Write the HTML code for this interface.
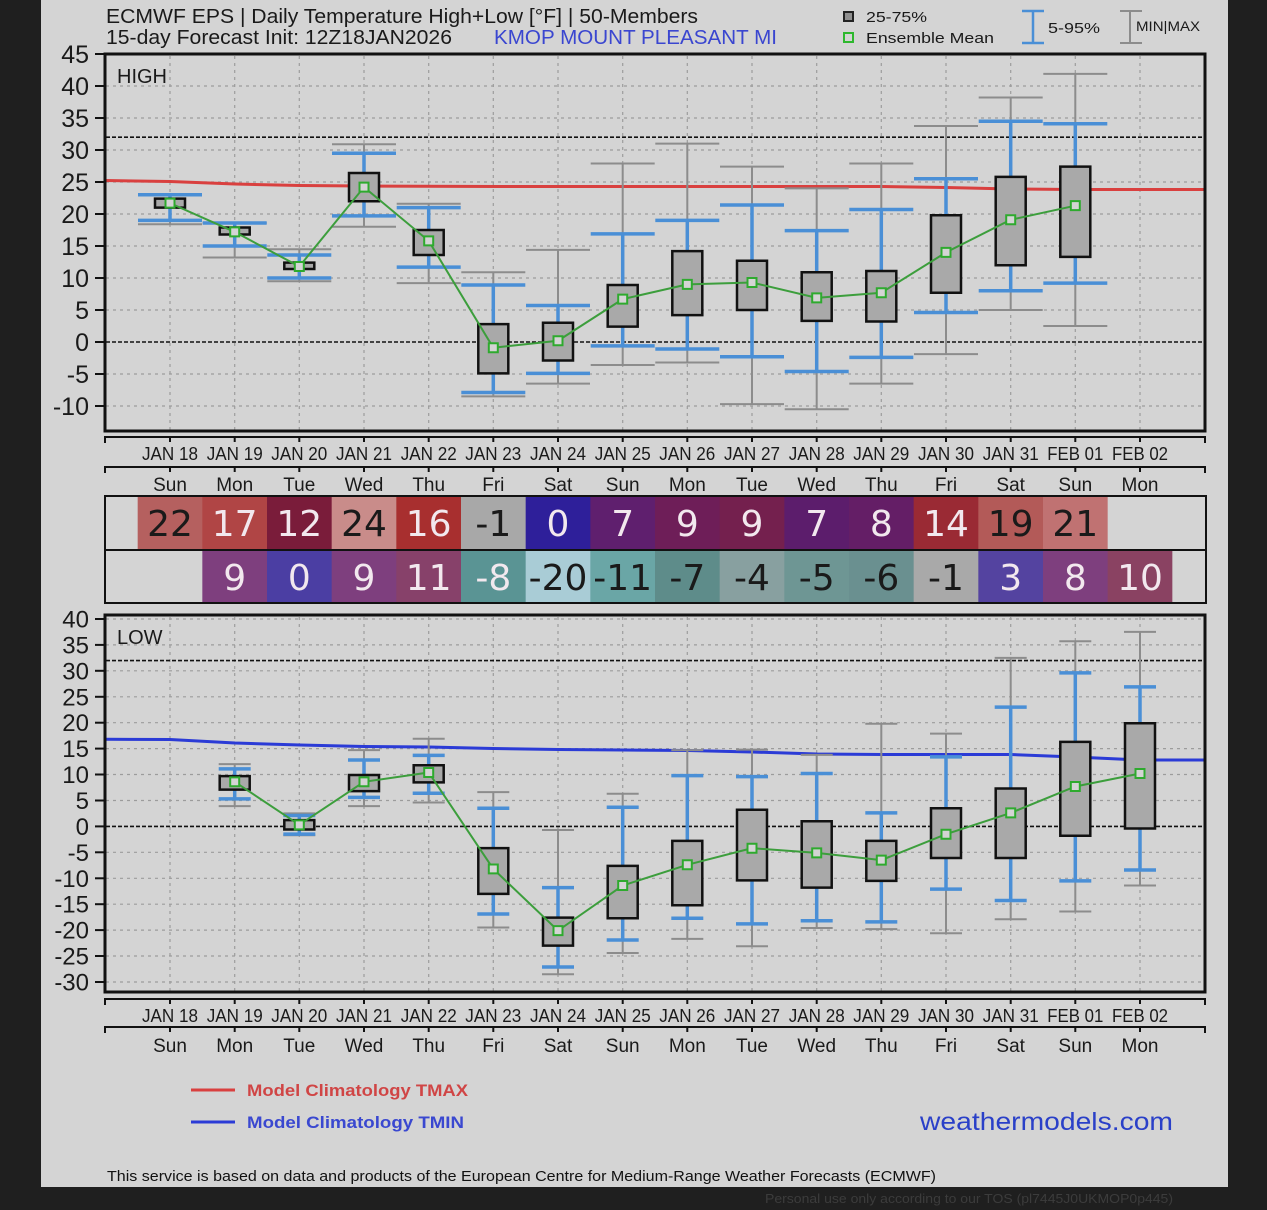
<!DOCTYPE html>
<html><head><meta charset="utf-8">
<style>
html,body{margin:0;padding:0;background:#1f1f1f;}
svg{display:block;}
text{font-family:"Liberation Sans",Arial,sans-serif;fill:#1a1a1a;}
.d line,.d rect,.d polyline{vector-effect:non-scaling-stroke;}
.g{stroke:#8c8c8c;stroke-width:2;}
.b{stroke:#4a8fd6;stroke-width:3.5;}
.bx{fill:#a9a9a9;stroke:#111;stroke-width:2.5;}
.mk{fill:#d4d4d4;stroke:#2eaa2e;stroke-width:2;}
.ml{fill:none;stroke:#3c9e3c;stroke-width:2;}
.grid line{stroke:#9c9c9c;stroke-width:1.2;stroke-dasharray:3 4;}
.tk line{stroke:#111;stroke-width:2;}
.yl text{font-size:25px;text-anchor:end;}
.yl2 text{font-size:24px;text-anchor:end;}
.xd text{font-size:18px;text-anchor:middle;}
.xw text{font-size:19px;text-anchor:middle;}
.tb text{font-family:"DejaVu Sans","Liberation Sans",sans-serif;font-size:36px;text-anchor:middle;}
.tb text.w{fill:#f2e8ee;}
</style></head><body>
<svg width="1267" height="1210" viewBox="0 0 1267 1210" xmlns="http://www.w3.org/2000/svg">
<rect x="0" y="0" width="1267" height="1210" fill="#1f1f1f"/>
<rect x="41" y="0" width="1187" height="1187" fill="#d4d4d4"/>

<!-- Header -->
<text x="106" y="23" font-size="20" textLength="592" lengthAdjust="spacingAndGlyphs">ECMWF EPS | Daily Temperature High+Low [°F] | 50-Members</text>
<text x="106" y="44" font-size="20" textLength="346" lengthAdjust="spacingAndGlyphs">15-day Forecast Init: 12Z18JAN2026</text>
<text x="494" y="44" font-size="20" style="fill:#3a46d0" textLength="283" lengthAdjust="spacingAndGlyphs">KMOP  MOUNT PLEASANT  MI</text>

<!-- top legend -->
<rect x="844" y="12" width="9" height="9" fill="#8f8f8f" stroke="#222" stroke-width="2"/>
<text x="866" y="22" font-size="15" textLength="61" lengthAdjust="spacingAndGlyphs">25-75%</text>
<rect x="844" y="33" width="9" height="9" fill="#d4d4d4" stroke="#2eb82e" stroke-width="2"/>
<text x="866" y="43" font-size="15" textLength="128" lengthAdjust="spacingAndGlyphs">Ensemble Mean</text>
<g stroke="#4a8fd6" stroke-width="2.5">
<line x1="1033" y1="11" x2="1033" y2="43"/><line x1="1022" y1="11" x2="1044" y2="11"/><line x1="1022" y1="43" x2="1044" y2="43"/>
</g>
<text x="1048" y="33" font-size="15" textLength="52" lengthAdjust="spacingAndGlyphs">5-95%</text>
<g stroke="#8c8c8c" stroke-width="2">
<line x1="1130" y1="11" x2="1130" y2="43"/><line x1="1120" y1="11" x2="1142" y2="11"/><line x1="1120" y1="43" x2="1142" y2="43"/>
</g>
<text x="1136" y="31" font-size="14" textLength="64" lengthAdjust="spacingAndGlyphs">MIN|MAX</text>

<!-- ============ HIGH PLOT ============ -->
<g class="grid">
<line x1="106" y1="86" x2="1204" y2="86"/><line x1="106" y1="118" x2="1204" y2="118"/>
<line x1="106" y1="150" x2="1204" y2="150"/><line x1="106" y1="182" x2="1204" y2="182"/>
<line x1="106" y1="214" x2="1204" y2="214"/><line x1="106" y1="246" x2="1204" y2="246"/>
<line x1="106" y1="278" x2="1204" y2="278"/><line x1="106" y1="310" x2="1204" y2="310"/>
<line x1="106" y1="374" x2="1204" y2="374"/><line x1="106" y1="406" x2="1204" y2="406"/>
<line x1="170" y1="56" x2="170" y2="430"/><line x1="234.7" y1="56" x2="234.7" y2="430"/>
<line x1="299.3" y1="56" x2="299.3" y2="430"/><line x1="364" y1="56" x2="364" y2="430"/>
<line x1="428.7" y1="56" x2="428.7" y2="430"/><line x1="493.3" y1="56" x2="493.3" y2="430"/>
<line x1="558" y1="56" x2="558" y2="430"/><line x1="622.7" y1="56" x2="622.7" y2="430"/>
<line x1="687.3" y1="56" x2="687.3" y2="430"/><line x1="752" y1="56" x2="752" y2="430"/>
<line x1="816.7" y1="56" x2="816.7" y2="430"/><line x1="881.3" y1="56" x2="881.3" y2="430"/>
<line x1="946" y1="56" x2="946" y2="430"/><line x1="1010.7" y1="56" x2="1010.7" y2="430"/>
<line x1="1075.3" y1="56" x2="1075.3" y2="430"/><line x1="1140" y1="56" x2="1140" y2="430"/>
</g>
<line x1="106" y1="137.2" x2="1204" y2="137.2" stroke="#111" stroke-width="1.6" stroke-dasharray="4 2"/>
<line x1="106" y1="342" x2="1204" y2="342" stroke="#111" stroke-width="1.6" stroke-dasharray="4 2"/>
<text x="117" y="83" font-size="20">HIGH</text>

<polyline points="105,180.5 170,181.5 235,184 300,185.5 364,186 500,186.5 700,186.5 882,186.5 946,187.5 1011,189 1075,189.5 1205,189.5" fill="none" stroke="#d9403f" stroke-width="3"/>

<g class="d" transform="matrix(1 0 0 -6.4 0 342)">
<!-- i0 -->
<line x1="170" y1="18.4" x2="170" y2="23" class="g"/><line x1="138" y1="18.4" x2="202" y2="18.4" class="g"/><line x1="138" y1="23" x2="202" y2="23" class="g"/>
<line x1="170" y1="19" x2="170" y2="23" class="b"/><line x1="138" y1="19" x2="202" y2="19" class="b"/><line x1="138" y1="23" x2="202" y2="23" class="b"/>
<rect x="155" y="21" width="30" height="1.4" class="bx"/>
<!-- i1 -->
<line x1="234.7" y1="13.2" x2="234.7" y2="18.6" class="g"/><line x1="202.7" y1="13.2" x2="266.7" y2="13.2" class="g"/><line x1="202.7" y1="18.6" x2="266.7" y2="18.6" class="g"/>
<line x1="234.7" y1="15" x2="234.7" y2="18.6" class="b"/><line x1="202.7" y1="15" x2="266.7" y2="15" class="b"/><line x1="202.7" y1="18.6" x2="266.7" y2="18.6" class="b"/>
<rect x="219.7" y="16.8" width="30" height="1.1" class="bx"/>
<!-- i2 -->
<line x1="299.3" y1="9.5" x2="299.3" y2="14.5" class="g"/><line x1="267.3" y1="9.5" x2="331.3" y2="9.5" class="g"/><line x1="267.3" y1="14.5" x2="331.3" y2="14.5" class="g"/>
<line x1="299.3" y1="10" x2="299.3" y2="13.6" class="b"/><line x1="267.3" y1="10" x2="331.3" y2="10" class="b"/><line x1="267.3" y1="13.6" x2="331.3" y2="13.6" class="b"/>
<rect x="284.3" y="11.4" width="30" height="1.0" class="bx"/>
<!-- i3 -->
<line x1="364" y1="18" x2="364" y2="30.9" class="g"/><line x1="332" y1="18" x2="396" y2="18" class="g"/><line x1="332" y1="30.9" x2="396" y2="30.9" class="g"/>
<line x1="364" y1="19.7" x2="364" y2="29.5" class="b"/><line x1="332" y1="19.7" x2="396" y2="19.7" class="b"/><line x1="332" y1="29.5" x2="396" y2="29.5" class="b"/>
<rect x="349" y="22" width="30" height="4.4" class="bx"/>
<!-- i4 -->
<line x1="428.7" y1="9.2" x2="428.7" y2="21.6" class="g"/><line x1="396.7" y1="9.2" x2="460.7" y2="9.2" class="g"/><line x1="396.7" y1="21.6" x2="460.7" y2="21.6" class="g"/>
<line x1="428.7" y1="11.7" x2="428.7" y2="21" class="b"/><line x1="396.7" y1="11.7" x2="460.7" y2="11.7" class="b"/><line x1="396.7" y1="21" x2="460.7" y2="21" class="b"/>
<rect x="413.7" y="13.6" width="30" height="3.9" class="bx"/>
<!-- i5 -->
<line x1="493.3" y1="-8.5" x2="493.3" y2="10.9" class="g"/><line x1="461.3" y1="-8.5" x2="525.3" y2="-8.5" class="g"/><line x1="461.3" y1="10.9" x2="525.3" y2="10.9" class="g"/>
<line x1="493.3" y1="-7.9" x2="493.3" y2="8.9" class="b"/><line x1="461.3" y1="-7.9" x2="525.3" y2="-7.9" class="b"/><line x1="461.3" y1="8.9" x2="525.3" y2="8.9" class="b"/>
<rect x="478.3" y="-4.9" width="30" height="7.7" class="bx"/>
<!-- i6 -->
<line x1="558" y1="-6.5" x2="558" y2="14.4" class="g"/><line x1="526" y1="-6.5" x2="590" y2="-6.5" class="g"/><line x1="526" y1="14.4" x2="590" y2="14.4" class="g"/>
<line x1="558" y1="-4.9" x2="558" y2="5.7" class="b"/><line x1="526" y1="-4.9" x2="590" y2="-4.9" class="b"/><line x1="526" y1="5.7" x2="590" y2="5.7" class="b"/>
<rect x="543" y="-2.9" width="30" height="5.9" class="bx"/>
<!-- i7 -->
<line x1="622.7" y1="-3.6" x2="622.7" y2="27.9" class="g"/><line x1="590.7" y1="-3.6" x2="654.7" y2="-3.6" class="g"/><line x1="590.7" y1="27.9" x2="654.7" y2="27.9" class="g"/>
<line x1="622.7" y1="-0.6" x2="622.7" y2="16.9" class="b"/><line x1="590.7" y1="-0.6" x2="654.7" y2="-0.6" class="b"/><line x1="590.7" y1="16.9" x2="654.7" y2="16.9" class="b"/>
<rect x="607.7" y="2.4" width="30" height="6.5" class="bx"/>
<!-- i8 -->
<line x1="687.3" y1="-3.2" x2="687.3" y2="31" class="g"/><line x1="655.3" y1="-3.2" x2="719.3" y2="-3.2" class="g"/><line x1="655.3" y1="31" x2="719.3" y2="31" class="g"/>
<line x1="687.3" y1="-1.1" x2="687.3" y2="19" class="b"/><line x1="655.3" y1="-1.1" x2="719.3" y2="-1.1" class="b"/><line x1="655.3" y1="19" x2="719.3" y2="19" class="b"/>
<rect x="672.3" y="4.2" width="30" height="10" class="bx"/>
<!-- i9 -->
<line x1="752" y1="-9.7" x2="752" y2="27.4" class="g"/><line x1="720" y1="-9.7" x2="784" y2="-9.7" class="g"/><line x1="720" y1="27.4" x2="784" y2="27.4" class="g"/>
<line x1="752" y1="-2.3" x2="752" y2="21.4" class="b"/><line x1="720" y1="-2.3" x2="784" y2="-2.3" class="b"/><line x1="720" y1="21.4" x2="784" y2="21.4" class="b"/>
<rect x="737" y="5" width="30" height="7.7" class="bx"/>
<!-- i10 -->
<line x1="816.7" y1="-10.5" x2="816.7" y2="24" class="g"/><line x1="784.7" y1="-10.5" x2="848.7" y2="-10.5" class="g"/><line x1="784.7" y1="24" x2="848.7" y2="24" class="g"/>
<line x1="816.7" y1="-4.6" x2="816.7" y2="17.4" class="b"/><line x1="784.7" y1="-4.6" x2="848.7" y2="-4.6" class="b"/><line x1="784.7" y1="17.4" x2="848.7" y2="17.4" class="b"/>
<rect x="801.7" y="3.3" width="30" height="7.6" class="bx"/>
<!-- i11 -->
<line x1="881.3" y1="-6.5" x2="881.3" y2="27.9" class="g"/><line x1="849.3" y1="-6.5" x2="913.3" y2="-6.5" class="g"/><line x1="849.3" y1="27.9" x2="913.3" y2="27.9" class="g"/>
<line x1="881.3" y1="-2.4" x2="881.3" y2="20.7" class="b"/><line x1="849.3" y1="-2.4" x2="913.3" y2="-2.4" class="b"/><line x1="849.3" y1="20.7" x2="913.3" y2="20.7" class="b"/>
<rect x="866.3" y="3.2" width="30" height="7.9" class="bx"/>
<!-- i12 -->
<line x1="946" y1="-1.9" x2="946" y2="33.75" class="g"/><line x1="914" y1="-1.9" x2="978" y2="-1.9" class="g"/><line x1="914" y1="33.75" x2="978" y2="33.75" class="g"/>
<line x1="946" y1="4.6" x2="946" y2="25.5" class="b"/><line x1="914" y1="4.6" x2="978" y2="4.6" class="b"/><line x1="914" y1="25.5" x2="978" y2="25.5" class="b"/>
<rect x="931" y="7.7" width="30" height="12.1" class="bx"/>
<!-- i13 -->
<line x1="1010.7" y1="5" x2="1010.7" y2="38.2" class="g"/><line x1="978.7" y1="5" x2="1042.7" y2="5" class="g"/><line x1="978.7" y1="38.2" x2="1042.7" y2="38.2" class="g"/>
<line x1="1010.7" y1="8" x2="1010.7" y2="34.5" class="b"/><line x1="978.7" y1="8" x2="1042.7" y2="8" class="b"/><line x1="978.7" y1="34.5" x2="1042.7" y2="34.5" class="b"/>
<rect x="995.7" y="12" width="30" height="13.8" class="bx"/>
<!-- i14 -->
<line x1="1075.3" y1="2.5" x2="1075.3" y2="41.9" class="g"/><line x1="1043.3" y1="2.5" x2="1107.3" y2="2.5" class="g"/><line x1="1043.3" y1="41.9" x2="1107.3" y2="41.9" class="g"/>
<line x1="1075.3" y1="9.2" x2="1075.3" y2="34.1" class="b"/><line x1="1043.3" y1="9.2" x2="1107.3" y2="9.2" class="b"/><line x1="1043.3" y1="34.1" x2="1107.3" y2="34.1" class="b"/>
<rect x="1060.3" y="13.3" width="30" height="14.1" class="bx"/>

<polyline class="ml" points="170,21.7 234.7,17.2 299.3,11.8 364,24.2 428.7,15.8 493.3,-0.9 558,0.2 622.7,6.7 687.3,9.0 752,9.3 816.7,6.9 881.3,7.7 946,14.0 1010.7,19.1 1075.3,21.3"/>
<rect class="mk" x="165.5" y="21.0" width="9" height="1.406"/>
<rect class="mk" x="230.2" y="16.5" width="9" height="1.406"/>
<rect class="mk" x="294.8" y="11.1" width="9" height="1.406"/>
<rect class="mk" x="359.5" y="23.5" width="9" height="1.406"/>
<rect class="mk" x="424.2" y="15.1" width="9" height="1.406"/>
<rect class="mk" x="488.8" y="-1.6" width="9" height="1.406"/>
<rect class="mk" x="553.5" y="-0.5" width="9" height="1.406"/>
<rect class="mk" x="618.2" y="6.0" width="9" height="1.406"/>
<rect class="mk" x="682.8" y="8.3" width="9" height="1.406"/>
<rect class="mk" x="747.5" y="8.6" width="9" height="1.406"/>
<rect class="mk" x="812.2" y="6.2" width="9" height="1.406"/>
<rect class="mk" x="876.8" y="7.0" width="9" height="1.406"/>
<rect class="mk" x="941.5" y="13.3" width="9" height="1.406"/>
<rect class="mk" x="1006.2" y="18.4" width="9" height="1.406"/>
<rect class="mk" x="1070.8" y="20.6" width="9" height="1.406"/>
</g>

<rect x="105" y="54" width="1100" height="377" fill="none" stroke="#111" stroke-width="3"/>

<g class="tk">
<line x1="95" y1="54" x2="105" y2="54"/><line x1="95" y1="86" x2="105" y2="86"/><line x1="95" y1="118" x2="105" y2="118"/>
<line x1="95" y1="150" x2="105" y2="150"/><line x1="95" y1="182" x2="105" y2="182"/><line x1="95" y1="214" x2="105" y2="214"/>
<line x1="95" y1="246" x2="105" y2="246"/><line x1="95" y1="278" x2="105" y2="278"/><line x1="95" y1="310" x2="105" y2="310"/>
<line x1="95" y1="342" x2="105" y2="342"/><line x1="95" y1="374" x2="105" y2="374"/><line x1="95" y1="406" x2="105" y2="406"/>
</g>
<g class="yl">
<text x="89" y="63">45</text><text x="89" y="95">40</text><text x="89" y="127">35</text><text x="89" y="159">30</text>
<text x="89" y="191">25</text><text x="89" y="223">20</text><text x="89" y="255">15</text><text x="89" y="287">10</text>
<text x="89" y="319">5</text><text x="89" y="351">0</text><text x="89" y="383">-5</text><text x="89" y="415">-10</text>
</g>

<!-- HIGH x axis -->
<g class="tk">
<line x1="105" y1="437" x2="1206" y2="437" stroke-width="2.5"/>
<line x1="105" y1="436" x2="105" y2="443"/><line x1="1205" y1="436" x2="1205" y2="443"/>
<line x1="170" y1="436" x2="170" y2="442"/><line x1="234.7" y1="436" x2="234.7" y2="442"/><line x1="299.3" y1="436" x2="299.3" y2="442"/>
<line x1="364" y1="436" x2="364" y2="442"/><line x1="428.7" y1="436" x2="428.7" y2="442"/><line x1="493.3" y1="436" x2="493.3" y2="442"/>
<line x1="558" y1="436" x2="558" y2="442"/><line x1="622.7" y1="436" x2="622.7" y2="442"/><line x1="687.3" y1="436" x2="687.3" y2="442"/>
<line x1="752" y1="436" x2="752" y2="442"/><line x1="816.7" y1="436" x2="816.7" y2="442"/><line x1="881.3" y1="436" x2="881.3" y2="442"/>
<line x1="946" y1="436" x2="946" y2="442"/><line x1="1010.7" y1="436" x2="1010.7" y2="442"/><line x1="1075.3" y1="436" x2="1075.3" y2="442"/>
<line x1="1140" y1="436" x2="1140" y2="442"/>
<line x1="105" y1="467" x2="1206" y2="467" stroke-width="2.5"/>
<line x1="105" y1="466" x2="105" y2="473"/><line x1="1205" y1="466" x2="1205" y2="473"/>
<line x1="170" y1="466" x2="170" y2="472"/><line x1="234.7" y1="466" x2="234.7" y2="472"/><line x1="299.3" y1="466" x2="299.3" y2="472"/>
<line x1="364" y1="466" x2="364" y2="472"/><line x1="428.7" y1="466" x2="428.7" y2="472"/><line x1="493.3" y1="466" x2="493.3" y2="472"/>
<line x1="558" y1="466" x2="558" y2="472"/><line x1="622.7" y1="466" x2="622.7" y2="472"/><line x1="687.3" y1="466" x2="687.3" y2="472"/>
<line x1="752" y1="466" x2="752" y2="472"/><line x1="816.7" y1="466" x2="816.7" y2="472"/><line x1="881.3" y1="466" x2="881.3" y2="472"/>
<line x1="946" y1="466" x2="946" y2="472"/><line x1="1010.7" y1="466" x2="1010.7" y2="472"/><line x1="1075.3" y1="466" x2="1075.3" y2="472"/>
<line x1="1140" y1="466" x2="1140" y2="472"/>
</g>
<g class="xd">
<text x="170" y="460" textLength="56" lengthAdjust="spacingAndGlyphs">JAN 18</text>
<text x="234.7" y="460" textLength="56" lengthAdjust="spacingAndGlyphs">JAN 19</text>
<text x="299.3" y="460" textLength="56" lengthAdjust="spacingAndGlyphs">JAN 20</text>
<text x="364" y="460" textLength="56" lengthAdjust="spacingAndGlyphs">JAN 21</text>
<text x="428.7" y="460" textLength="56" lengthAdjust="spacingAndGlyphs">JAN 22</text>
<text x="493.3" y="460" textLength="56" lengthAdjust="spacingAndGlyphs">JAN 23</text>
<text x="558" y="460" textLength="56" lengthAdjust="spacingAndGlyphs">JAN 24</text>
<text x="622.7" y="460" textLength="56" lengthAdjust="spacingAndGlyphs">JAN 25</text>
<text x="687.3" y="460" textLength="56" lengthAdjust="spacingAndGlyphs">JAN 26</text>
<text x="752" y="460" textLength="56" lengthAdjust="spacingAndGlyphs">JAN 27</text>
<text x="816.7" y="460" textLength="56" lengthAdjust="spacingAndGlyphs">JAN 28</text>
<text x="881.3" y="460" textLength="56" lengthAdjust="spacingAndGlyphs">JAN 29</text>
<text x="946" y="460" textLength="56" lengthAdjust="spacingAndGlyphs">JAN 30</text>
<text x="1010.7" y="460" textLength="56" lengthAdjust="spacingAndGlyphs">JAN 31</text>
<text x="1075.3" y="460" textLength="56" lengthAdjust="spacingAndGlyphs">FEB 01</text>
<text x="1140" y="460" textLength="56" lengthAdjust="spacingAndGlyphs">FEB 02</text>
</g>
<g class="xw">
<text x="170" y="491">Sun</text><text x="234.7" y="491">Mon</text><text x="299.3" y="491">Tue</text><text x="364" y="491">Wed</text>
<text x="428.7" y="491">Thu</text><text x="493.3" y="491">Fri</text><text x="558" y="491">Sat</text><text x="622.7" y="491">Sun</text>
<text x="687.3" y="491">Mon</text><text x="752" y="491">Tue</text><text x="816.7" y="491">Wed</text><text x="881.3" y="491">Thu</text>
<text x="946" y="491">Fri</text><text x="1010.7" y="491">Sat</text><text x="1075.3" y="491">Sun</text><text x="1140" y="491">Mon</text>
</g>

<!-- ============ TABLE ============ -->
<g>
<rect x="137.67" y="497" width="65" height="53" fill="#b5605f"/>
<rect x="202.33" y="497" width="65" height="53" fill="#b04545"/>
<rect x="267" y="497" width="65" height="53" fill="#7a1c3a"/>
<rect x="331.67" y="497" width="65" height="53" fill="#c98c8a"/>
<rect x="396.33" y="497" width="65" height="53" fill="#a82f2f"/>
<rect x="461" y="497" width="65" height="53" fill="#a8a8a8"/>
<rect x="525.67" y="497" width="65" height="53" fill="#2e1f9a"/>
<rect x="590.33" y="497" width="65" height="53" fill="#5f1f6e"/>
<rect x="655" y="497" width="65" height="53" fill="#6e1e58"/>
<rect x="719.67" y="497" width="65" height="53" fill="#74204e"/>
<rect x="784.33" y="497" width="65" height="53" fill="#5c1d6c"/>
<rect x="849" y="497" width="65" height="53" fill="#641e66"/>
<rect x="913.67" y="497" width="65" height="53" fill="#9a2a34"/>
<rect x="978.33" y="497" width="65" height="53" fill="#b35a58"/>
<rect x="1043" y="497" width="64.67" height="53" fill="#c07272"/>

<rect x="202.33" y="550" width="65" height="53" fill="#7e3f7e"/>
<rect x="267" y="550" width="65" height="53" fill="#4b3ea3"/>
<rect x="331.67" y="550" width="65" height="53" fill="#7e3f7e"/>
<rect x="396.33" y="550" width="65" height="53" fill="#87416a"/>
<rect x="461" y="550" width="65" height="53" fill="#5a9494"/>
<rect x="525.67" y="550" width="65" height="53" fill="#a9ccd6"/>
<rect x="590.33" y="550" width="65" height="53" fill="#6aa6a6"/>
<rect x="655" y="550" width="65" height="53" fill="#5e8c8a"/>
<rect x="719.67" y="550" width="65" height="53" fill="#88a0a0"/>
<rect x="784.33" y="550" width="65" height="53" fill="#6e9694"/>
<rect x="849" y="550" width="65" height="53" fill="#6a9090"/>
<rect x="913.67" y="550" width="65" height="53" fill="#a9a9a9"/>
<rect x="978.33" y="550" width="65" height="53" fill="#5443a0"/>
<rect x="1043" y="550" width="65" height="53" fill="#7e3f7e"/>
<rect x="1107.67" y="550" width="64.67" height="53" fill="#8a4262"/>
</g>
<rect x="105" y="496" width="1101" height="107" fill="none" stroke="#111" stroke-width="2"/>
<line x1="105" y1="550" x2="1206" y2="550" stroke="#111" stroke-width="2"/>
<g class="tb">
<text x="170" y="536">22</text>
<text x="234.7" y="536" class="w">17</text>
<text x="299.3" y="536" class="w">12</text>
<text x="364" y="536">24</text>
<text x="428.7" y="536" class="w">16</text>
<text x="493.3" y="536">-1</text>
<text x="558" y="536" class="w">0</text>
<text x="622.7" y="536" class="w">7</text>
<text x="687.3" y="536" class="w">9</text>
<text x="752" y="536" class="w">9</text>
<text x="816.7" y="536" class="w">7</text>
<text x="881.3" y="536" class="w">8</text>
<text x="946" y="536" class="w">14</text>
<text x="1010.7" y="536">19</text>
<text x="1075.3" y="536">21</text>

<text x="234.7" y="590" class="w">9</text>
<text x="299.3" y="590" class="w">0</text>
<text x="364" y="590" class="w">9</text>
<text x="428.7" y="590" class="w">11</text>
<text x="493.3" y="590" class="w">-8</text>
<text x="558" y="590">-20</text>
<text x="622.7" y="590">-11</text>
<text x="687.3" y="590">-7</text>
<text x="752" y="590">-4</text>
<text x="816.7" y="590">-5</text>
<text x="881.3" y="590">-6</text>
<text x="946" y="590">-1</text>
<text x="1010.7" y="590" class="w">3</text>
<text x="1075.3" y="590" class="w">8</text>
<text x="1140" y="590" class="w">10</text>
</g>

<!-- ============ LOW PLOT ============ -->
<g class="grid">
<line x1="106" y1="619" x2="1204" y2="619"/><line x1="106" y1="644.9" x2="1204" y2="644.9"/>
<line x1="106" y1="670.8" x2="1204" y2="670.8"/><line x1="106" y1="696.8" x2="1204" y2="696.8"/>
<line x1="106" y1="722.7" x2="1204" y2="722.7"/><line x1="106" y1="748.6" x2="1204" y2="748.6"/>
<line x1="106" y1="774.5" x2="1204" y2="774.5"/><line x1="106" y1="800.5" x2="1204" y2="800.5"/>
<line x1="106" y1="852.3" x2="1204" y2="852.3"/><line x1="106" y1="878.3" x2="1204" y2="878.3"/>
<line x1="106" y1="904.2" x2="1204" y2="904.2"/><line x1="106" y1="930.1" x2="1204" y2="930.1"/>
<line x1="106" y1="956" x2="1204" y2="956"/><line x1="106" y1="982" x2="1204" y2="982"/>
<line x1="170" y1="617" x2="170" y2="991"/><line x1="234.7" y1="617" x2="234.7" y2="991"/>
<line x1="299.3" y1="617" x2="299.3" y2="991"/><line x1="364" y1="617" x2="364" y2="991"/>
<line x1="428.7" y1="617" x2="428.7" y2="991"/><line x1="493.3" y1="617" x2="493.3" y2="991"/>
<line x1="558" y1="617" x2="558" y2="991"/><line x1="622.7" y1="617" x2="622.7" y2="991"/>
<line x1="687.3" y1="617" x2="687.3" y2="991"/><line x1="752" y1="617" x2="752" y2="991"/>
<line x1="816.7" y1="617" x2="816.7" y2="991"/><line x1="881.3" y1="617" x2="881.3" y2="991"/>
<line x1="946" y1="617" x2="946" y2="991"/><line x1="1010.7" y1="617" x2="1010.7" y2="991"/>
<line x1="1075.3" y1="617" x2="1075.3" y2="991"/><line x1="1140" y1="617" x2="1140" y2="991"/>
</g>
<line x1="106" y1="660.6" x2="1204" y2="660.6" stroke="#111" stroke-width="1.6" stroke-dasharray="4 2"/>
<line x1="106" y1="826.4" x2="1204" y2="826.4" stroke="#111" stroke-width="1.6" stroke-dasharray="4 2"/>
<text x="117" y="644" font-size="20">LOW</text>

<polyline points="105,739.3 170,739.5 235,743 300,745 364,746.5 429,747 493,748.5 558,749.5 623,750 688,750.5 752,752 817,754 882,754.5 946,754.5 1011,754.5 1075,757 1140,760 1205,760" fill="none" stroke="#2b3bd6" stroke-width="3"/>

<g class="d" transform="matrix(1 0 0 -5.186 0 826.4)">
<!-- i1 -->
<line x1="234.7" y1="3.9" x2="234.7" y2="12" class="g"/><line x1="218.7" y1="3.9" x2="250.7" y2="3.9" class="g"/><line x1="218.7" y1="12" x2="250.7" y2="12" class="g"/>
<line x1="234.7" y1="5.3" x2="234.7" y2="11.1" class="b"/><line x1="218.7" y1="5.3" x2="250.7" y2="5.3" class="b"/><line x1="218.7" y1="11.1" x2="250.7" y2="11.1" class="b"/>
<rect x="219.7" y="7.1" width="30" height="2.6" class="bx"/>
<!-- i2 -->
<line x1="299.3" y1="-1.7" x2="299.3" y2="2.5" class="g"/><line x1="283.3" y1="-1.7" x2="315.3" y2="-1.7" class="g"/><line x1="283.3" y1="2.5" x2="315.3" y2="2.5" class="g"/>
<line x1="299.3" y1="-1.5" x2="299.3" y2="2.1" class="b"/><line x1="283.3" y1="-1.5" x2="315.3" y2="-1.5" class="b"/><line x1="283.3" y1="2.1" x2="315.3" y2="2.1" class="b"/>
<rect x="284.3" y="-0.6" width="30" height="1.8" class="bx"/>
<!-- i3 -->
<line x1="364" y1="3.9" x2="364" y2="14.7" class="g"/><line x1="348" y1="3.9" x2="380" y2="3.9" class="g"/><line x1="348" y1="14.7" x2="380" y2="14.7" class="g"/>
<line x1="364" y1="5.6" x2="364" y2="12.8" class="b"/><line x1="348" y1="5.6" x2="380" y2="5.6" class="b"/><line x1="348" y1="12.8" x2="380" y2="12.8" class="b"/>
<rect x="349" y="6.8" width="30" height="3.1" class="bx"/>
<!-- i4 -->
<line x1="428.7" y1="4.6" x2="428.7" y2="16.9" class="g"/><line x1="412.7" y1="4.6" x2="444.7" y2="4.6" class="g"/><line x1="412.7" y1="16.9" x2="444.7" y2="16.9" class="g"/>
<line x1="428.7" y1="6.4" x2="428.7" y2="13.7" class="b"/><line x1="412.7" y1="6.4" x2="444.7" y2="6.4" class="b"/><line x1="412.7" y1="13.7" x2="444.7" y2="13.7" class="b"/>
<rect x="413.7" y="8.5" width="30" height="3.3" class="bx"/>
<!-- i5 -->
<line x1="493.3" y1="-19.5" x2="493.3" y2="6.6" class="g"/><line x1="477.3" y1="-19.5" x2="509.3" y2="-19.5" class="g"/><line x1="477.3" y1="6.6" x2="509.3" y2="6.6" class="g"/>
<line x1="493.3" y1="-16.9" x2="493.3" y2="3.5" class="b"/><line x1="477.3" y1="-16.9" x2="509.3" y2="-16.9" class="b"/><line x1="477.3" y1="3.5" x2="509.3" y2="3.5" class="b"/>
<rect x="478.3" y="-13" width="30" height="8.8" class="bx"/>
<!-- i6 -->
<line x1="558" y1="-28.5" x2="558" y2="-0.7" class="g"/><line x1="542" y1="-28.5" x2="574" y2="-28.5" class="g"/><line x1="542" y1="-0.7" x2="574" y2="-0.7" class="g"/>
<line x1="558" y1="-27.1" x2="558" y2="-11.8" class="b"/><line x1="542" y1="-27.1" x2="574" y2="-27.1" class="b"/><line x1="542" y1="-11.8" x2="574" y2="-11.8" class="b"/>
<rect x="543" y="-23" width="30" height="5.4" class="bx"/>
<!-- i7 -->
<line x1="622.7" y1="-24.4" x2="622.7" y2="6.3" class="g"/><line x1="606.7" y1="-24.4" x2="638.7" y2="-24.4" class="g"/><line x1="606.7" y1="6.3" x2="638.7" y2="6.3" class="g"/>
<line x1="622.7" y1="-21.9" x2="622.7" y2="3.7" class="b"/><line x1="606.7" y1="-21.9" x2="638.7" y2="-21.9" class="b"/><line x1="606.7" y1="3.7" x2="638.7" y2="3.7" class="b"/>
<rect x="607.7" y="-17.7" width="30" height="10.1" class="bx"/>
<!-- i8 -->
<line x1="687.3" y1="-21.7" x2="687.3" y2="14.7" class="g"/><line x1="671.3" y1="-21.7" x2="703.3" y2="-21.7" class="g"/><line x1="671.3" y1="14.7" x2="703.3" y2="14.7" class="g"/>
<line x1="687.3" y1="-17.7" x2="687.3" y2="9.8" class="b"/><line x1="671.3" y1="-17.7" x2="703.3" y2="-17.7" class="b"/><line x1="671.3" y1="9.8" x2="703.3" y2="9.8" class="b"/>
<rect x="672.3" y="-15.2" width="30" height="12.4" class="bx"/>
<!-- i9 -->
<line x1="752" y1="-23.1" x2="752" y2="14.8" class="g"/><line x1="736" y1="-23.1" x2="768" y2="-23.1" class="g"/><line x1="736" y1="14.8" x2="768" y2="14.8" class="g"/>
<line x1="752" y1="-18.8" x2="752" y2="9.6" class="b"/><line x1="736" y1="-18.8" x2="768" y2="-18.8" class="b"/><line x1="736" y1="9.6" x2="768" y2="9.6" class="b"/>
<rect x="737" y="-10.4" width="30" height="13.6" class="bx"/>
<!-- i10 -->
<line x1="816.7" y1="-19.6" x2="816.7" y2="13.8" class="g"/><line x1="800.7" y1="-19.6" x2="832.7" y2="-19.6" class="g"/><line x1="800.7" y1="13.8" x2="832.7" y2="13.8" class="g"/>
<line x1="816.7" y1="-18.2" x2="816.7" y2="10.2" class="b"/><line x1="800.7" y1="-18.2" x2="832.7" y2="-18.2" class="b"/><line x1="800.7" y1="10.2" x2="832.7" y2="10.2" class="b"/>
<rect x="801.7" y="-11.8" width="30" height="12.8" class="bx"/>
<!-- i11 -->
<line x1="881.3" y1="-19.8" x2="881.3" y2="19.8" class="g"/><line x1="865.3" y1="-19.8" x2="897.3" y2="-19.8" class="g"/><line x1="865.3" y1="19.8" x2="897.3" y2="19.8" class="g"/>
<line x1="881.3" y1="-18.4" x2="881.3" y2="2.6" class="b"/><line x1="865.3" y1="-18.4" x2="897.3" y2="-18.4" class="b"/><line x1="865.3" y1="2.6" x2="897.3" y2="2.6" class="b"/>
<rect x="866.3" y="-10.5" width="30" height="7.7" class="bx"/>
<!-- i12 -->
<line x1="946" y1="-20.6" x2="946" y2="17.9" class="g"/><line x1="930" y1="-20.6" x2="962" y2="-20.6" class="g"/><line x1="930" y1="17.9" x2="962" y2="17.9" class="g"/>
<line x1="946" y1="-12.1" x2="946" y2="13.4" class="b"/><line x1="930" y1="-12.1" x2="962" y2="-12.1" class="b"/><line x1="930" y1="13.4" x2="962" y2="13.4" class="b"/>
<rect x="931" y="-6.1" width="30" height="9.6" class="bx"/>
<!-- i13 -->
<line x1="1010.7" y1="-17.9" x2="1010.7" y2="32.5" class="g"/><line x1="994.7" y1="-17.9" x2="1026.7" y2="-17.9" class="g"/><line x1="994.7" y1="32.5" x2="1026.7" y2="32.5" class="g"/>
<line x1="1010.7" y1="-14.3" x2="1010.7" y2="23" class="b"/><line x1="994.7" y1="-14.3" x2="1026.7" y2="-14.3" class="b"/><line x1="994.7" y1="23" x2="1026.7" y2="23" class="b"/>
<rect x="995.7" y="-6.1" width="30" height="13.4" class="bx"/>
<!-- i14 -->
<line x1="1075.3" y1="-16.4" x2="1075.3" y2="35.7" class="g"/><line x1="1059.3" y1="-16.4" x2="1091.3" y2="-16.4" class="g"/><line x1="1059.3" y1="35.7" x2="1091.3" y2="35.7" class="g"/>
<line x1="1075.3" y1="-10.5" x2="1075.3" y2="29.6" class="b"/><line x1="1059.3" y1="-10.5" x2="1091.3" y2="-10.5" class="b"/><line x1="1059.3" y1="29.6" x2="1091.3" y2="29.6" class="b"/>
<rect x="1060.3" y="-1.8" width="30" height="18.1" class="bx"/>
<!-- i15 -->
<line x1="1140" y1="-11.4" x2="1140" y2="37.5" class="g"/><line x1="1124" y1="-11.4" x2="1156" y2="-11.4" class="g"/><line x1="1124" y1="37.5" x2="1156" y2="37.5" class="g"/>
<line x1="1140" y1="-8.4" x2="1140" y2="26.9" class="b"/><line x1="1124" y1="-8.4" x2="1156" y2="-8.4" class="b"/><line x1="1124" y1="26.9" x2="1156" y2="26.9" class="b"/>
<rect x="1125" y="-0.4" width="30" height="20.3" class="bx"/>

<polyline class="ml" points="234.7,8.6 299.3,0.3 364,8.6 428.7,10.4 493.3,-8.2 558,-20.1 622.7,-11.4 687.3,-7.4 752,-4.2 816.7,-5.1 881.3,-6.5 946,-1.5 1010.7,2.6 1075.3,7.7 1140,10.2"/>
<rect class="mk" x="230.2" y="7.73" width="9" height="1.735"/>
<rect class="mk" x="294.8" y="-0.57" width="9" height="1.735"/>
<rect class="mk" x="359.5" y="7.73" width="9" height="1.735"/>
<rect class="mk" x="424.2" y="9.53" width="9" height="1.735"/>
<rect class="mk" x="488.8" y="-9.07" width="9" height="1.735"/>
<rect class="mk" x="553.5" y="-20.97" width="9" height="1.735"/>
<rect class="mk" x="618.2" y="-12.27" width="9" height="1.735"/>
<rect class="mk" x="682.8" y="-8.27" width="9" height="1.735"/>
<rect class="mk" x="747.5" y="-5.07" width="9" height="1.735"/>
<rect class="mk" x="812.2" y="-5.97" width="9" height="1.735"/>
<rect class="mk" x="876.8" y="-7.37" width="9" height="1.735"/>
<rect class="mk" x="941.5" y="-2.37" width="9" height="1.735"/>
<rect class="mk" x="1006.2" y="1.73" width="9" height="1.735"/>
<rect class="mk" x="1070.8" y="6.83" width="9" height="1.735"/>
<rect class="mk" x="1135.5" y="9.33" width="9" height="1.735"/>
</g>

<rect x="105" y="615" width="1100" height="377" fill="none" stroke="#111" stroke-width="3"/>

<g class="tk">
<line x1="95" y1="619" x2="105" y2="619"/><line x1="95" y1="644.9" x2="105" y2="644.9"/><line x1="95" y1="670.8" x2="105" y2="670.8"/>
<line x1="95" y1="696.8" x2="105" y2="696.8"/><line x1="95" y1="722.7" x2="105" y2="722.7"/><line x1="95" y1="748.6" x2="105" y2="748.6"/>
<line x1="95" y1="774.5" x2="105" y2="774.5"/><line x1="95" y1="800.5" x2="105" y2="800.5"/><line x1="95" y1="826.4" x2="105" y2="826.4"/>
<line x1="95" y1="852.3" x2="105" y2="852.3"/><line x1="95" y1="878.3" x2="105" y2="878.3"/><line x1="95" y1="904.2" x2="105" y2="904.2"/>
<line x1="95" y1="930.1" x2="105" y2="930.1"/><line x1="95" y1="956" x2="105" y2="956"/><line x1="95" y1="982" x2="105" y2="982"/>
</g>
<g class="yl2">
<text x="89" y="627.5">40</text><text x="89" y="653.4">35</text><text x="89" y="679.3">30</text><text x="89" y="705.3">25</text>
<text x="89" y="731.2">20</text><text x="89" y="757.1">15</text><text x="89" y="783">10</text><text x="89" y="809">5</text>
<text x="89" y="834.9">0</text><text x="89" y="860.8">-5</text><text x="89" y="886.8">-10</text><text x="89" y="912.7">-15</text>
<text x="89" y="938.6">-20</text><text x="89" y="964.5">-25</text><text x="89" y="990.5">-30</text>
</g>

<!-- LOW x axis -->
<g class="tk">
<line x1="105" y1="999" x2="1206" y2="999" stroke-width="2.5"/>
<line x1="105" y1="998" x2="105" y2="1005"/><line x1="1205" y1="998" x2="1205" y2="1005"/>
<line x1="170" y1="998" x2="170" y2="1004"/><line x1="234.7" y1="998" x2="234.7" y2="1004"/><line x1="299.3" y1="998" x2="299.3" y2="1004"/>
<line x1="364" y1="998" x2="364" y2="1004"/><line x1="428.7" y1="998" x2="428.7" y2="1004"/><line x1="493.3" y1="998" x2="493.3" y2="1004"/>
<line x1="558" y1="998" x2="558" y2="1004"/><line x1="622.7" y1="998" x2="622.7" y2="1004"/><line x1="687.3" y1="998" x2="687.3" y2="1004"/>
<line x1="752" y1="998" x2="752" y2="1004"/><line x1="816.7" y1="998" x2="816.7" y2="1004"/><line x1="881.3" y1="998" x2="881.3" y2="1004"/>
<line x1="946" y1="998" x2="946" y2="1004"/><line x1="1010.7" y1="998" x2="1010.7" y2="1004"/><line x1="1075.3" y1="998" x2="1075.3" y2="1004"/>
<line x1="1140" y1="998" x2="1140" y2="1004"/>
<line x1="105" y1="1027" x2="1206" y2="1027" stroke-width="2.5"/>
<line x1="105" y1="1026" x2="105" y2="1033"/><line x1="1205" y1="1026" x2="1205" y2="1033"/>
<line x1="170" y1="1026" x2="170" y2="1032"/><line x1="234.7" y1="1026" x2="234.7" y2="1032"/><line x1="299.3" y1="1026" x2="299.3" y2="1032"/>
<line x1="364" y1="1026" x2="364" y2="1032"/><line x1="428.7" y1="1026" x2="428.7" y2="1032"/><line x1="493.3" y1="1026" x2="493.3" y2="1032"/>
<line x1="558" y1="1026" x2="558" y2="1032"/><line x1="622.7" y1="1026" x2="622.7" y2="1032"/><line x1="687.3" y1="1026" x2="687.3" y2="1032"/>
<line x1="752" y1="1026" x2="752" y2="1032"/><line x1="816.7" y1="1026" x2="816.7" y2="1032"/><line x1="881.3" y1="1026" x2="881.3" y2="1032"/>
<line x1="946" y1="1026" x2="946" y2="1032"/><line x1="1010.7" y1="1026" x2="1010.7" y2="1032"/><line x1="1075.3" y1="1026" x2="1075.3" y2="1032"/>
<line x1="1140" y1="1026" x2="1140" y2="1032"/>
</g>
<g class="xd">
<text x="170" y="1022" textLength="56" lengthAdjust="spacingAndGlyphs">JAN 18</text>
<text x="234.7" y="1022" textLength="56" lengthAdjust="spacingAndGlyphs">JAN 19</text>
<text x="299.3" y="1022" textLength="56" lengthAdjust="spacingAndGlyphs">JAN 20</text>
<text x="364" y="1022" textLength="56" lengthAdjust="spacingAndGlyphs">JAN 21</text>
<text x="428.7" y="1022" textLength="56" lengthAdjust="spacingAndGlyphs">JAN 22</text>
<text x="493.3" y="1022" textLength="56" lengthAdjust="spacingAndGlyphs">JAN 23</text>
<text x="558" y="1022" textLength="56" lengthAdjust="spacingAndGlyphs">JAN 24</text>
<text x="622.7" y="1022" textLength="56" lengthAdjust="spacingAndGlyphs">JAN 25</text>
<text x="687.3" y="1022" textLength="56" lengthAdjust="spacingAndGlyphs">JAN 26</text>
<text x="752" y="1022" textLength="56" lengthAdjust="spacingAndGlyphs">JAN 27</text>
<text x="816.7" y="1022" textLength="56" lengthAdjust="spacingAndGlyphs">JAN 28</text>
<text x="881.3" y="1022" textLength="56" lengthAdjust="spacingAndGlyphs">JAN 29</text>
<text x="946" y="1022" textLength="56" lengthAdjust="spacingAndGlyphs">JAN 30</text>
<text x="1010.7" y="1022" textLength="56" lengthAdjust="spacingAndGlyphs">JAN 31</text>
<text x="1075.3" y="1022" textLength="56" lengthAdjust="spacingAndGlyphs">FEB 01</text>
<text x="1140" y="1022" textLength="56" lengthAdjust="spacingAndGlyphs">FEB 02</text>
</g>
<g class="xw">
<text x="170" y="1052">Sun</text><text x="234.7" y="1052">Mon</text><text x="299.3" y="1052">Tue</text><text x="364" y="1052">Wed</text>
<text x="428.7" y="1052">Thu</text><text x="493.3" y="1052">Fri</text><text x="558" y="1052">Sat</text><text x="622.7" y="1052">Sun</text>
<text x="687.3" y="1052">Mon</text><text x="752" y="1052">Tue</text><text x="816.7" y="1052">Wed</text><text x="881.3" y="1052">Thu</text>
<text x="946" y="1052">Fri</text><text x="1010.7" y="1052">Sat</text><text x="1075.3" y="1052">Sun</text><text x="1140" y="1052">Mon</text>
</g>

<!-- bottom legend -->
<line x1="191" y1="1090" x2="235" y2="1090" stroke="#d9403f" stroke-width="3"/>
<text x="247" y="1096" font-size="17" font-weight="bold" style="fill:#d04545" textLength="221" lengthAdjust="spacingAndGlyphs">Model Climatology TMAX</text>
<line x1="191" y1="1122" x2="235" y2="1122" stroke="#2b3bd6" stroke-width="3"/>
<text x="247" y="1128" font-size="17" font-weight="bold" style="fill:#3a48d0" textLength="217" lengthAdjust="spacingAndGlyphs">Model Climatology TMIN</text>

<text x="920" y="1130" font-size="25" style="fill:#2a40c8" textLength="253" lengthAdjust="spacingAndGlyphs">weathermodels.com</text>

<text x="107" y="1181" font-size="15" style="fill:#111" textLength="829" lengthAdjust="spacingAndGlyphs">This service is based on data and products of the European Centre for Medium-Range Weather Forecasts (ECMWF)</text>

<text x="765" y="1203" font-size="13" style="fill:#3c3c3c" textLength="408" lengthAdjust="spacingAndGlyphs">Personal use only according to our TOS (pl7445J0UKMOP0p445)</text>
</svg>
</body></html>
